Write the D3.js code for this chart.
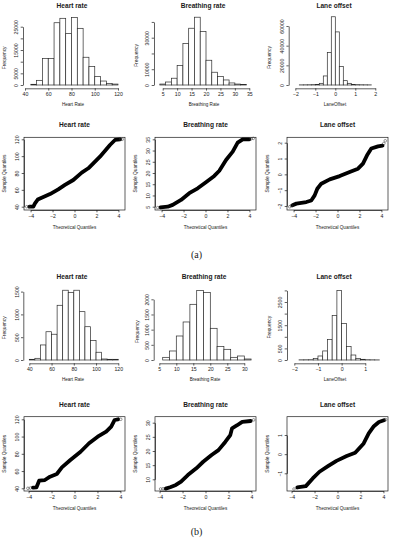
<!DOCTYPE html>
<html><head><meta charset="utf-8">
<script src="https://cdn.jsdelivr.net/npm/d3@7"></script>
<style>body{margin:0;background:#fff}svg{display:block}</style>
</head><body>
<svg id="c" width="393" height="550"></svg>
<script>
// ---------- DATA ----------
const panelTitles = ["Heart rate", "Breathing rate", "Lane offset"];
const histXTitles = ["Heart Rate", "Breathing Rate", "LaneOffset"];
const panelLabels = ["(a)", "(b)"];

// (a) histograms: start of first bin, bin width, counts
const aHeartStart = 45, aHeartStep = 5;
const aHeartCounts = [300, 2000, 11400, 11400, 26700, 28600, 22100, 28900, 24300, 11900, 7900, 3600, 1700, 700, 400];
const aBreathStart = 4, aBreathStep = 2;
const aBreathCounts = [600, 1900, 4300, 12300, 26400, 36000, 43000, 34000, 15700, 8100, 5300, 3200, 1300, 600, 400];
const aLaneStart = -1.8, aLaneStep = 0.2;
const aLaneCounts = [150, 200, 250, 350, 600, 1700, 9200, 33200, 69400, 54000, 18800, 4400, 1700, 600, 350, 250, 200, 150];

// (b) histograms
const bHeartStart = 40, bHeartStep = 5;
const bHeartCounts = [15, 37, 330, 620, 565, 1200, 1530, 1480, 1530, 1060, 730, 425, 170, 22, 15, 15];
const bBreathStart = 6, bBreathStep = 2;
const bBreathCounts = [88, 297, 791, 1253, 1835, 2286, 2220, 1044, 440, 352, 88, 132, 33];
const bLaneStart = -1.8, bLaneStep = 0.2;
const bLaneCounts = [8, 10, 12, 70, 173, 390, 890, 1920, 3000, 1570, 580, 215, 70, 30, 12, 8, 5];

// tick values
const aHeartXTicks = [40, 60, 80, 100, 120], aHeartYTicks = [0, 5000, 10000, 15000, 20000, 25000];
const aBreathXTicks = [5, 10, 15, 20, 25, 30, 35], aBreathYTicks = [0, 10000, 20000, 30000, 40000];
const aLaneXTicks = [-2, -1, 0, 1, 2], aLaneYTicks = [0, 20000, 40000, 60000];
const bHeartXTicks = [40, 60, 80, 100, 120], bHeartYTicks = [0, 500, 1000, 1500];
const bBreathXTicks = [5, 10, 15, 20, 25, 30], bBreathYTicks = [0, 500, 1000, 1500, 2000];
const bLaneXTicks = [-2, -1, 0, 1], bLaneYTicks = [0, 500, 1000, 1500, 2000, 2500, 3000];

// QQ plots: theoretical quantiles (x) vs sample quantiles (y)
const aHeartQx = [-4.1, -3.75, -3.6, -3.35, -2.99, -2.23, -1.48, -0.87, -0.11, 0.66, 1.26, 2.32, 3.23, 3.69, 4.15];
const aHeartQy = [40, 40, 44, 48.5, 50.7, 55, 60.6, 65.8, 71.7, 80.4, 85.6, 99.4, 113.2, 119.2, 120];
const aHeartTx = [-4.35, -4.15, 4.2, 4.35], aHeartTy = [40, 40, 120, 120];
const aBreathQx = [-4.1, -3.44, -2.99, -2.23, -1.48, -0.71, 0.04, 0.8, 1.26, 1.87, 2.48, 2.93, 3.39, 3.99];
const aBreathQy = [4.7, 5, 5.8, 8, 11, 13.2, 15.9, 18.7, 21, 25.8, 29.5, 33.5, 35, 35];
const aBreathTx = [-4.35, 4.15, 4.35], aBreathTy = [4.6, 35.2, 35.4];
const aLaneQx = [-4.1, -3.75, -2.84, -2.39, -2.08, -1.84, -1.48, -0.71, 0.2, 1.11, 1.87, 2.32, 2.69, 3.08, 3.69, 4.1];
const aLaneQy = [-1.95, -1.85, -1.75, -1.65, -1.33, -0.91, -0.59, -0.32, -0.11, 0.15, 0.36, 0.68, 1.2, 1.63, 1.77, 1.82];
const aLaneTx = [-4.35, -4.2, 4.22, 4.35], aLaneTy = [-2.05, -1.98, 1.95, 2.12];

const bHeartQx = [-3.62, -3.32, -3.08, -2.58, -2.13, -1.54, -1.1, -0.36, 0.53, 1.27, 2.02, 2.76, 3.2, 3.5, 3.8];
const bHeartQy = [40.7, 41, 48.8, 49.6, 53.5, 56.6, 64.3, 72.8, 82.4, 92.2, 99.8, 105.6, 111.4, 119.2, 120];
const bHeartTx = [-4.06, -3.85, 4.03], bHeartTy = [40, 40.3, 120];
const bBreathQx = [-3.47, -3.08, -2.58, -2.13, -1.54, -0.8, -0.2, 0.53, 1.13, 1.72, 2.16, 2.31, 2.76, 3.2, 3.94];
const bBreathQy = [6.7, 7.2, 8, 9.2, 11.5, 13.9, 16.2, 18.6, 20.3, 23.2, 25.6, 28, 29.1, 30.3, 30.6];
const bBreathTx = [-3.91, -3.7, 4.2], bBreathTy = [6.6, 6.65, 31];
const bLaneQx = [-3.5, -2.76, -2.16, -1.57, -0.83, -0.09, 0.8, 1.54, 2.28, 2.72, 3.17, 3.61, 4.05];
const bLaneQy = [-1.74, -1.67, -1.27, -0.92, -0.63, -0.35, -0.1, 0.07, 0.56, 1.08, 1.46, 1.68, 1.77];
const bLaneTx = [-3.79, 4.2], bLaneTy = [-1.82, 1.8];

const qqXTicks = [-4, -2, 0, 2, 4];
const aHeartQTicks = [40, 60, 80, 100, 120], aBreathQTicks = [5, 10, 15, 20, 25, 30, 35], aLaneQTicks = [-2, -1, 0, 1, 2];
const bHeartQTicks = [40, 60, 80, 100, 120], bBreathQTicks = [10, 15, 20, 25, 30], bLaneQTicks = [-1, 0, 1];

// ---------- DRAWING ----------
const FONT = "'Liberation Sans', Arial, sans-serif";
const INK = "#1a1a1a";
const svg = d3.select("#c");
const TICK_FS = 5.2;

function txt(x, y, s, fs, opts = {}) {
  const t = svg.append("text").attr("x", x).attr("y", y).text(s)
    .attr("font-family", FONT).attr("font-size", fs).attr("fill", INK)
    .attr("text-anchor", "middle").attr("dominant-baseline", "central");
  if (opts.bold) t.attr("font-weight", "bold");
  if (opts.rot) t.attr("transform", `rotate(-90,${x},${y})`);
  if (opts.family) t.attr("font-family", opts.family);
  return t;
}

function styleAxis(g) {
  g.attr("font-family", FONT).attr("font-size", TICK_FS);
  g.selectAll("path.domain").attr("stroke", INK).attr("stroke-width", 0.7);
  g.selectAll(".tick line").attr("stroke", INK).attr("stroke-width", 0.7);
  g.selectAll(".tick text").attr("fill", INK);
}

function bottomAxis(scale, ticks, yPos) {
  const s = scale.copy().domain([ticks[0], ticks[ticks.length - 1]])
    .range([scale(ticks[0]), scale(ticks[ticks.length - 1])]);
  const g = svg.append("g").attr("transform", `translate(0,${yPos})`)
    .call(d3.axisBottom(s).tickValues(ticks).tickSize(2.3).tickSizeOuter(0).tickPadding(2.2).tickFormat(d3.format("")));
  styleAxis(g);
  return g;
}

function leftAxis(scale, ticks, xPos) {
  const s = scale.copy().domain([ticks[0], ticks[ticks.length - 1]])
    .range([scale(ticks[0]), scale(ticks[ticks.length - 1])]);
  const g = svg.append("g").attr("transform", `translate(${xPos},0)`)
    .call(d3.axisLeft(s).tickValues(ticks).tickSize(2.3).tickSizeOuter(0).tickPadding(2.4).tickFormat(d3.format("")));
  styleAxis(g);
  // rotate labels like R (las = 0) and drop overlapping ones
  let lastPos = null, lastHalf = 0;
  g.selectAll(".tick").each(function (d) {
    const t = d3.select(this).select("text");
    const pos = s(d);
    const half = String(d).length * TICK_FS * 0.56 / 2;
    if (lastPos !== null && Math.abs(lastPos - pos) < lastHalf + half + 2) {
      t.remove();
      return;
    }
    lastPos = pos; lastHalf = half;
    t.attr("transform", "rotate(-90)").attr("x", 0).attr("y", -4.7)
      .attr("dy", "0em").attr("text-anchor", "middle");
  });
  return g;
}

function drawHist(o) {
  const x = d3.scaleLinear().domain([o.xTicks[0], o.xTicks[o.xTicks.length - 1]]).range(o.xPix);
  const y = d3.scaleLinear().domain([0, o.yRefVal]).range([o.y0, o.yRefPix]);
  svg.append("g").selectAll("rect").data(o.counts).join("rect")
    .attr("x", (d, i) => x(o.start + i * o.step))
    .attr("width", (d, i) => x(o.start + (i + 1) * o.step) - x(o.start + i * o.step))
    .attr("y", d => y(d))
    .attr("height", d => y(0) - y(d))
    .attr("fill", "#fff").attr("stroke", "#2a2a2a").attr("stroke-width", 0.7);
  bottomAxis(x, o.xTicks, o.y0 + 3.3);
  leftAxis(y, o.yTicks, o.yAxisX);
  txt(o.titleX, o.titleY, o.title, 6.6, { bold: true });
  txt(o.titleX + 1, o.y0 + 19.5, o.xTitle, 4.6);
  txt(o.freqX, (o.y0 + y(o.yTicks[o.yTicks.length - 1])) / 2 + 2, "Frequency", 4.8, { rot: true });
}

function drawQQ(o) {
  const x = d3.scaleLinear().domain(o.xDom).range([o.left, o.right]);
  const y = d3.scaleLinear().domain([o.yTicks[0], o.yTicks[o.yTicks.length - 1]]).range(o.yPix);
  svg.append("rect").attr("x", o.left).attr("y", o.top)
    .attr("width", o.right - o.left).attr("height", o.bottom - o.top)
    .attr("fill", "none").attr("stroke", INK).attr("stroke-width", 0.7);
  const pts = o.qx.map((v, i) => [x(v), y(o.qy[i])]);
  svg.append("path").attr("d", d3.line()(pts))
    .attr("fill", "none").attr("stroke", "#000").attr("stroke-width", 3.8)
    .attr("stroke-linejoin", "round").attr("stroke-linecap", "round");
  svg.append("g").selectAll("circle").data(o.tx).join("circle")
    .attr("cx", d => x(d)).attr("cy", (d, i) => y(o.ty[i])).attr("r", 1.3)
    .attr("fill", "none").attr("stroke", "#333").attr("stroke-width", 0.5);
  bottomAxis(x, qqXTicks, o.bottom);
  leftAxis(y, o.yTicks, o.left);
  txt((o.left + o.right) / 2, o.top - 12.5, o.title, 6.6, { bold: true });
  txt((o.left + o.right) / 2, o.bottom + 17, "Theoretical Quantiles", 4.6);
  txt(o.left - 19, (o.top + o.bottom) / 2, "Sample Quantiles", 4.8, { rot: true });
}

const colX = [0, 131, 263];

// ---- (a) histograms ----
drawHist({ start: aHeartStart, step: aHeartStep, counts: aHeartCounts, xTicks: aHeartXTicks, yTicks: aHeartYTicks,
  xPix: [25, 118], y0: 85, yRefVal: 25000, yRefPix: 26.7, yAxisX: 23, title: panelTitles[0], xTitle: histXTitles[0],
  titleX: 72, titleY: 5.5, freqX: 5 });
drawHist({ start: aBreathStart, step: aBreathStep, counts: aBreathCounts, xTicks: aBreathXTicks, yTicks: aBreathYTicks,
  xPix: [162.7, 249.3], y0: 85, yRefVal: 30000, yRefPix: 37.7, yAxisX: 154, title: panelTitles[1], xTitle: histXTitles[1],
  titleX: 203, titleY: 5.5, freqX: 136.3 });
drawHist({ start: aLaneStart, step: aLaneStep, counts: aLaneCounts, xTicks: aLaneXTicks, yTicks: aLaneYTicks,
  xPix: [295.3, 375.3], y0: 85, yRefVal: 60000, yRefPix: 26, yAxisX: 288.7, title: panelTitles[2], xTitle: histXTitles[2],
  titleX: 334, titleY: 5.5, freqX: 269.3 });

// ---- (a) QQ ----
const qqA = [[aHeartQx, aHeartQy, aHeartTx, aHeartTy, aHeartQTicks, [206.7, 139.3]],
             [aBreathQx, aBreathQy, aBreathTx, aBreathTy, aBreathQTicks, [206.7, 139.3]],
             [aLaneQx, aLaneQy, aLaneTx, aLaneTy, aLaneQTicks, [206, 142.7]]];
qqA.forEach((q, i) => drawQQ({ qx: q[0], qy: q[1], tx: q[2], ty: q[3], yTicks: q[4], yPix: q[5],
  xDom: [-4.6, 4.6], left: colX[i] + 24, right: colX[i] + 125, top: 137.3, bottom: 210, title: panelTitles[i] }));

// ---- (b) histograms ----
drawHist({ start: bHeartStart, step: bHeartStep, counts: bHeartCounts, xTicks: bHeartXTicks, yTicks: bHeartYTicks,
  xPix: [29.3, 118.3], y0: 360, yRefVal: 1500, yRefPix: 291.6, yAxisX: 23.3, title: panelTitles[0], xTitle: histXTitles[0],
  titleX: 72, titleY: 276.5, freqX: 5 });
drawHist({ start: bBreathStart, step: bBreathStep, counts: bBreathCounts, xTicks: bBreathXTicks, yTicks: bBreathYTicks,
  xPix: [159.3, 244.3], y0: 360, yRefVal: 2000, yRefPix: 299.3, yAxisX: 153.7, title: panelTitles[1], xTitle: histXTitles[1],
  titleX: 204, titleY: 276.5, freqX: 137.7 });
drawHist({ start: bLaneStart, step: bLaneStep, counts: bLaneCounts, xTicks: bLaneXTicks, yTicks: bLaneYTicks,
  xPix: [294.3, 365.3], y0: 360, yRefVal: 3000, yRefPix: 290.4, yAxisX: 287, title: panelTitles[2], xTitle: histXTitles[2],
  titleX: 334, titleY: 276.5, freqX: 269.3 });

// ---- (b) QQ ----
const qqB = [[bHeartQx, bHeartQy, bHeartTx, bHeartTy, bHeartQTicks, [488.3, 419.3]],
             [bBreathQx, bBreathQy, bBreathTx, bBreathTy, bBreathQTicks, [479.3, 422.7]],
             [bLaneQx, bLaneQy, bLaneTx, bLaneTy, bLaneQTicks, [473.3, 435]]];
qqB.forEach((q, i) => drawQQ({ qx: q[0], qy: q[1], tx: q[2], ty: q[3], yTicks: q[4], yPix: q[5],
  xDom: [-4.4, 4.4], left: colX[i] + 24, right: colX[i] + 125, top: 416.7, bottom: 491, title: panelTitles[i] }));

// ---- sub-figure labels ----
txt(196.5, 254, panelLabels[0], 10, { family: "'Liberation Serif', 'Times New Roman', serif" });
txt(196.5, 531, panelLabels[1], 10, { family: "'Liberation Serif', 'Times New Roman', serif" });
</script>
</body></html>
